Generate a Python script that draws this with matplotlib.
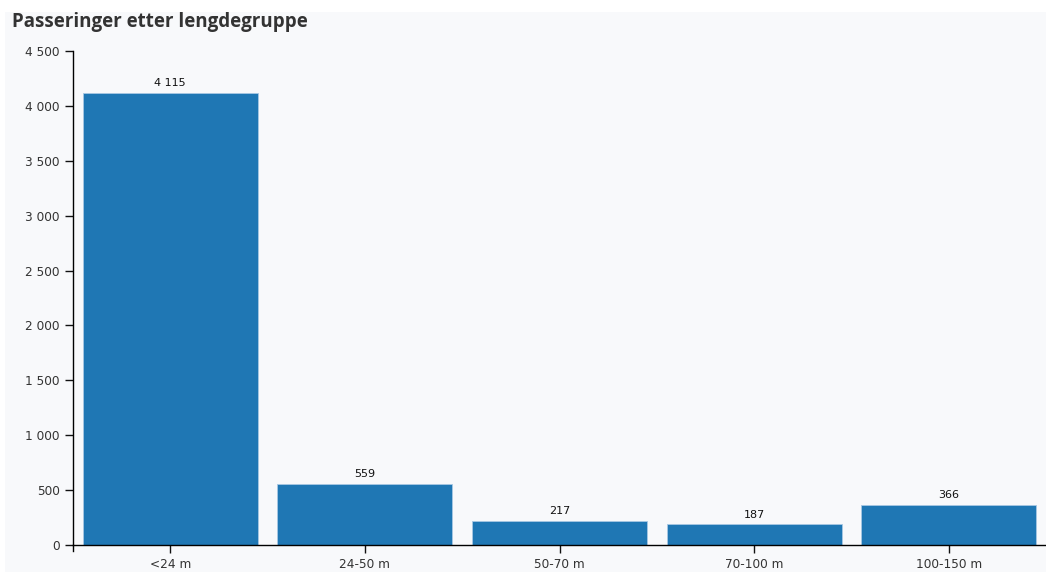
import matplotlib.pyplot as plt
from matplotlib.lines import Line2D

categories = ["<24 m", "24-50 m", "50-70 m", "70-100 m", "100-150 m"]
values = [4115, 559, 217, 187, 366]
y_ticks = [0, 500, 1000, 1500, 2000, 2500, 3000, 3500, 4000, 4500]


def fmt(v):
    return f"{v:,}".replace(",", " ")


W, H = 1046, 572
fig = plt.figure(figsize=(W / 100, H / 100), dpi=100)
fig.patch.set_facecolor("white")

# light panel behind everything below the top strip
bg = fig.add_axes([5 / W, 0, 1 - 5 / W, (H - 12) / H])
bg.set_facecolor("#f8f9fb")
bg.set_xticks([])
bg.set_yticks([])
for s in bg.spines.values():
    s.set_visible(False)
bg.set_zorder(0)

ax = fig.add_axes([73 / W, 27 / H, (W - 73) / W, 494 / H])
ax.set_zorder(1)
ax.patch.set_alpha(0)

x = list(range(len(categories)))
ax.bar(x, values, width=0.9, color="#1f77b4", edgecolor="#a8c8e4", linewidth=0.6)
for xi, v in zip(x, values):
    ax.text(xi, v + 45, fmt(v), ha="center", va="bottom", fontsize=8,
            family="DejaVu Sans", color="#111111")

ax.set_xlim(-0.5, len(categories) - 0.5)
ax.set_ylim(0, 4500)
ax.set_yticks(y_ticks)
ax.set_yticklabels([fmt(t) for t in y_ticks])
ax.set_xticks(x)
ax.set_xticklabels(categories)
ax.tick_params(axis="both", labelsize=8.7, colors="#111111", length=6, width=1,
               labelcolor="#333333")
ax.tick_params(axis="x", pad=3)
for lab in ax.get_xticklabels() + ax.get_yticklabels():
    lab.set_family("DejaVu Sans")

for s in ["top", "right"]:
    ax.spines[s].set_visible(False)
ax.spines["left"].set_linewidth(1)
ax.spines["bottom"].set_linewidth(1)

# outer end cap at left of x axis
cap = Line2D([73 / W, 73 / W], [27 / H, 21 / H], transform=fig.transFigure,
             color="black", linewidth=1)
fig.add_artist(cap)

fig.text(12 / W, 1 - 22 / H, "Passeringer etter lengdegruppe", fontsize=13.5,
         fontweight="bold", family="Open Sans", color="#333333", va="center")

fig.savefig("out.png", dpi=100)
